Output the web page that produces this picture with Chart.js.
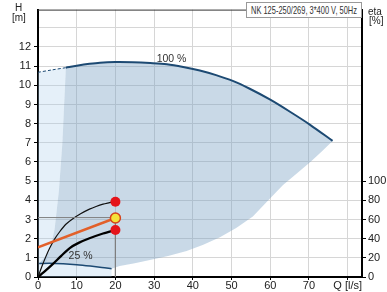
<!DOCTYPE html>
<html>
<head>
<meta charset="utf-8">
<script src="https://cdn.jsdelivr.net/npm/chart.js@4"></script>
<style>
html,body{margin:0;padding:0;background:#fff;}
#wrap{position:relative;width:387px;height:292px;}
canvas{position:absolute;left:0;top:0;}
.lbl{position:absolute;font-family:"Liberation Sans",Arial,sans-serif;color:#222;line-height:1;}
#title{position:absolute;left:246px;top:2px;}
</style>
</head>
<body>
<div id="wrap">
<canvas id="c" width="387" height="292"></canvas>
<svg id="title" width="116" height="16" xmlns="http://www.w3.org/2000/svg">
  <rect x="0.5" y="0.5" width="115" height="15" fill="#fff" stroke="#999" stroke-width="1"/>
  <text x="5" y="11.5" font-family="Liberation Sans, Arial, sans-serif" font-size="10.5" fill="#333"
        textLength="106" lengthAdjust="spacingAndGlyphs">NK 125-250/269, 3*400 V, 50Hz</text>
</svg>
<div class="lbl" style="left:15px;top:3px;font-size:10px;">H</div>
<div class="lbl" style="left:12px;top:13px;font-size:10px;">[m]</div>
<div class="lbl" style="left:368px;top:7px;font-size:10px;">eta</div>
<div class="lbl" style="left:369px;top:16px;font-size:10px;">[%]</div>
</div>
<script>
// ---- data ----
const xTickLabels = ['0','10','20','30','40','50','60','70','Q [l/s]'];
const hTickMax = 12;
const etaTickMax = 100;

// 100 % speed curve (dashed part, then solid part)
const q100dash = [0, 3.5, 7.2];
const h100dash = [10.68, 10.80, 10.92];
const q100 = [7.2, 10, 13.3, 16, 20, 24.5, 29, 33.3, 37.5, 41.8, 46, 50.3, 54.7, 60, 65.1, 70.3, 76.1];
const h100 = [10.92, 11.02, 11.12, 11.18, 11.21, 11.2, 11.16, 11.1, 10.96, 10.77, 10.53, 10.23, 9.82, 9.25, 8.62, 7.94, 7.1];

// 25 % speed curve
const q25 = [0.3, 3, 6.5, 10, 13.5, 16.5, 19.0];
const h25 = [0.70, 0.72, 0.69, 0.64, 0.57, 0.50, 0.43];

// lower boundary of the operating range (from end of 100% to end of 25%)
const qLow = [76.1, 73.3, 70.5, 67, 63.3, 59.5, 55.5, 51.2, 47, 42.7, 38.4, 33.6, 28.9, 25, 21.1, 19.0];
const hLow = [7.1, 6.55, 6.02, 5.42, 4.8, 4.0, 3.15, 2.55, 2.08, 1.68, 1.35, 1.1, 0.89, 0.72, 0.58, 0.43];

// left (minimum flow) boundary, top to bottom
const qMin = [7.2, 6.3, 5.4, 4.3, 3, 2];
const hMin = [10.92, 7.0, 4.5, 2.5, 1.3, 0.71];

// system / duty curves
const qThin = [0, 1, 2, 3, 4.2, 5.6, 7.2, 9, 11, 13.3, 15, 16.8, 18.5, 20];
const hThin = [0, 0.55, 1.05, 1.5, 1.95, 2.36, 2.75, 3.04, 3.3, 3.54, 3.68, 3.8, 3.88, 3.95];
const qThick = [0, 1.5, 3.8, 6, 8.2, 10.5, 13.3, 16.8, 20];
const hThick = [0, 0.25, 0.67, 1.1, 1.51, 1.78, 2.02, 2.27, 2.45];
const qOrange = [0, 20];
const hOrange = [1.55, 3.08];

// duty point and guide lines
const qDuty = [20];
const hDuty = [3.08];
const qGuide = [0, 20, 20];
const hGuide = [3.1, 3.1, 0];
const qRed = [20, 20];
const hRed = [3.93, 2.45];

// curve labels
const curveLabels = [
  {text: '100 %', q: 34.5, h: 11.35},
  {text: '25 %', q: 11, h: 1.09}
];

// ---- helpers ----
const pts = (qs, hs) => qs.map((q, i) => ({x: q, y: hs[i]}));
const rev = a => a.slice().reverse();

// dark (operating) region polygon
const darkQ = [].concat(q100, qLow.slice(1), rev(q25).slice(1), rev(qMin).slice(1));
const darkH = [].concat(h100, hLow.slice(1), rev(h25).slice(1), rev(hMin).slice(1));
// light region polygon
const lightQ = [].concat(q100dash, qMin.slice(1), q25.slice(1), [19.0, 0]);
const lightH = [].concat(h100dash, hMin.slice(1), h25.slice(1), [0, 0]);

Chart.defaults.font.family = '"Liberation Sans", Arial, sans-serif';
Chart.defaults.font.size = 11;
Chart.defaults.color = '#222';

const navy = '#1d4a73';

const labelPlugin = {
  id: 'labels',
  afterDatasetsDraw(chart) {
    const {ctx, scales: {x, y}, chartArea: a} = chart;
    ctx.save();
    ctx.font = '10.5px "Liberation Sans", Arial, sans-serif';
    ctx.fillStyle = '#333';
    ctx.textAlign = 'center';
    ctx.textBaseline = 'middle';
    curveLabels.forEach(l => ctx.fillText(l.text, x.getPixelForValue(l.q), y.getPixelForValue(l.h)));
    ctx.strokeStyle = '#333';
    ctx.lineWidth = 1;
    ctx.beginPath();
    ctx.moveTo(a.left, a.top + 0.5);
    ctx.lineTo(a.right, a.top + 0.5);
    ctx.stroke();
    ctx.restore();
  }
};

new Chart(document.getElementById('c'), {
  type: 'scatter',
  data: {
    datasets: [
      {data: pts(qDuty, hDuty), pointRadius: 5, pointBackgroundColor: '#f4e23a', pointBorderColor: '#d4421c', pointBorderWidth: 1.5, showLine: false},
      {data: pts(qRed, hRed), pointRadius: 5, pointBackgroundColor: '#e5141b', pointBorderColor: '#e5141b', pointBorderWidth: 0, showLine: false},
      {data: pts(qGuide, hGuide), showLine: true, borderColor: '#7f7f7f', borderWidth: 1, pointRadius: 0, tension: 0},
      {data: pts(qOrange, hOrange), showLine: true, borderColor: '#e2602a', borderWidth: 2.5, pointRadius: 0, tension: 0},
      {data: pts(qThin, hThin), showLine: true, borderColor: '#111', borderWidth: 1.2, pointRadius: 0, tension: 0.3},
      {data: pts(qThick, hThick), showLine: true, borderColor: '#000', borderWidth: 2.3, pointRadius: 0, tension: 0.3},
      {data: pts(q25, h25), showLine: true, borderColor: navy, borderWidth: 1.5, pointRadius: 0, tension: 0.3},
      {data: pts(q100, h100), showLine: true, borderColor: navy, borderWidth: 2, pointRadius: 0, tension: 0.3},
      {data: pts(q100dash, h100dash), showLine: true, borderColor: navy, borderWidth: 1, borderDash: [3, 2], pointRadius: 0, tension: 0.3},
      {data: pts(darkQ, darkH), showLine: true, borderWidth: 0, borderColor: 'rgba(0,0,0,0)', backgroundColor: 'rgba(120,160,195,0.4)', fill: 'shape', pointRadius: 0, tension: 0},
      {data: pts(lightQ, lightH), showLine: true, borderWidth: 0, borderColor: 'rgba(0,0,0,0)', backgroundColor: 'rgba(170,205,235,0.3)', fill: 'shape', pointRadius: 0, tension: 0}
    ]
  },
  options: {
    responsive: false,
    animation: false,
    events: [],
    layout: {padding: {top: 2, left: 0, right: 0, bottom: 0}},
    plugins: {legend: {display: false}, tooltip: {enabled: false}},
    scales: {
      x: {
        type: 'linear', min: 0, max: 83.7,
        afterFit: s => { s.height = 15; },
        border: {display: true, color: '#000', width: 2},
        grid: {color: '#d6d6d6', lineWidth: 1, tickColor: '#000', tickLength: 3},
        ticks: {stepSize: 10, includeBounds: false, padding: -1, maxRotation: 0, autoSkip: false,
          callback: (v) => xTickLabels[Math.round(v / 10)] ?? ''}
      },
      y: {
        type: 'linear', position: 'left', min: 0, max: 13.95,
        afterFit: s => { s.width = 38; },
        border: {display: true, color: '#000', width: 2},
        grid: {color: '#d6d6d6', lineWidth: 1, tickLength: 4,
          tickColor: c => (c.tick && c.tick.value <= hTickMax) ? '#000' : 'rgba(0,0,0,0)'},
        ticks: {stepSize: 1, includeBounds: false, padding: 3,
          callback: v => v <= hTickMax ? String(v) : ''}
      },
      y2: {
        type: 'linear', position: 'right', min: 0, max: 279,
        afterFit: s => { s.width = 25; },
        border: {display: true, color: '#000', width: 2},
        grid: {drawOnChartArea: false, tickLength: 4,
          tickColor: c => (c.tick && c.tick.value <= etaTickMax) ? '#000' : 'rgba(0,0,0,0)'},
        ticks: {stepSize: 20, includeBounds: false, padding: 2,
          callback: v => v <= etaTickMax ? String(v) : ''}
      }
    }
  },
  plugins: [labelPlugin]
});
</script>
</body>
</html>
